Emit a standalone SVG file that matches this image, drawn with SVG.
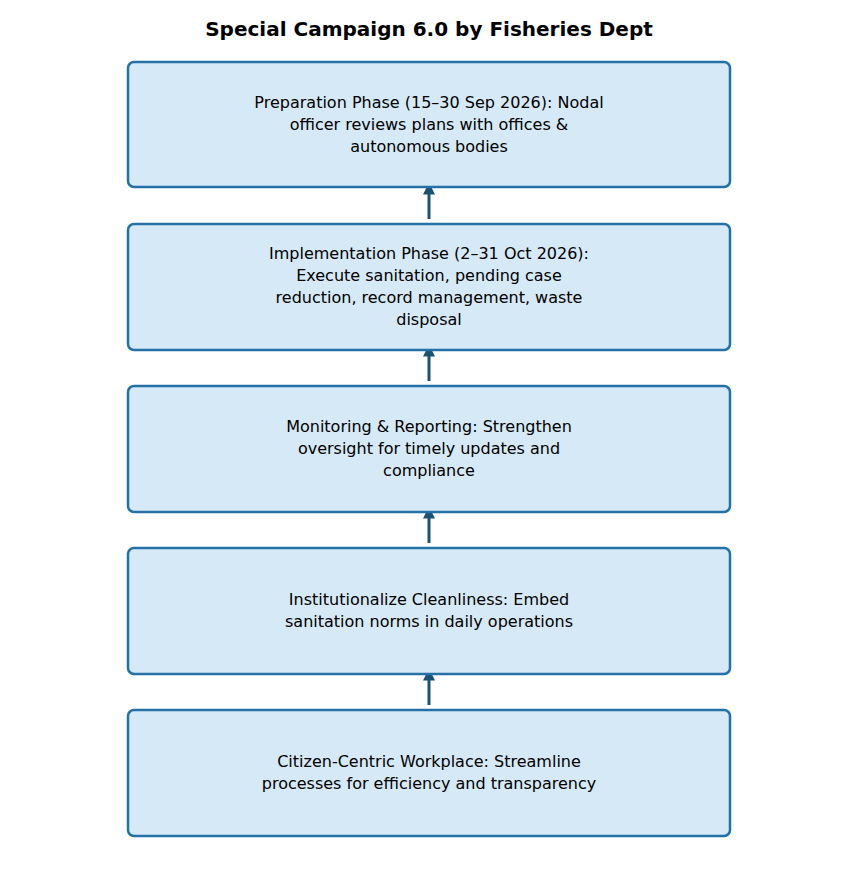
<svg xmlns="http://www.w3.org/2000/svg" width="858" height="877" viewBox="0 0 858 877">
<style>
.box{fill:#d6e9f6;stroke:#2471a8;stroke-width:2.5}
.t{font-family:"DejaVu Sans",sans-serif;font-size:16px;fill:#000;text-anchor:middle}
.c{stroke:#1a5276;stroke-width:3;fill:none;marker-end:url(#ah)}
</style>
<defs><marker id="ah" viewBox="0 0 10 10" refX="8" refY="5" markerWidth="4" markerHeight="4" orient="auto"><path d="M0,0L10,5L0,10z" fill="#1a5276"/></marker></defs>
<rect width="858" height="877" fill="#fff"/>
<text x="429" y="36" font-family="DejaVu Sans,sans-serif" font-size="20" font-weight="bold" text-anchor="middle">Special Campaign 6.0 by Fisheries Dept</text>
<g id="connectors">
<line class="c" x1="429" y1="219" x2="429" y2="185"/>
<line class="c" x1="429" y1="381" x2="429" y2="347"/>
<line class="c" x1="429" y1="543" x2="429" y2="509"/>
<line class="c" x1="429" y1="705" x2="429" y2="671"/>
</g>
<g id="n1"><rect class="box" x="128" y="62" width="602" height="125" rx="6"/>
<text class="t" x="429" y="108">Preparation Phase (15–30 Sep 2026): Nodal</text>
<text class="t" x="429" y="130">officer reviews plans with offices &amp;</text>
<text class="t" x="429" y="152">autonomous bodies</text></g>
<g id="n2"><rect class="box" x="128" y="224" width="602" height="126" rx="6"/>
<text class="t" x="429" y="259">Implementation Phase (2–31 Oct 2026):</text>
<text class="t" x="429" y="281">Execute sanitation, pending case</text>
<text class="t" x="429" y="303">reduction, record management, waste</text>
<text class="t" x="429" y="325">disposal</text></g>
<g id="n3"><rect class="box" x="128" y="386" width="602" height="126" rx="6"/>
<text class="t" x="429" y="432">Monitoring &amp; Reporting: Strengthen</text>
<text class="t" x="429" y="454">oversight for timely updates and</text>
<text class="t" x="429" y="476">compliance</text></g>
<g id="n4"><rect class="box" x="128" y="548" width="602" height="126" rx="6"/>
<text class="t" x="429" y="605">Institutionalize Cleanliness: Embed</text>
<text class="t" x="429" y="627">sanitation norms in daily operations</text></g>
<g id="n5"><rect class="box" x="128" y="710" width="602" height="126" rx="6"/>
<text class="t" x="429" y="767">Citizen-Centric Workplace: Streamline</text>
<text class="t" x="429" y="789">processes for efficiency and transparency</text></g>
</svg>
